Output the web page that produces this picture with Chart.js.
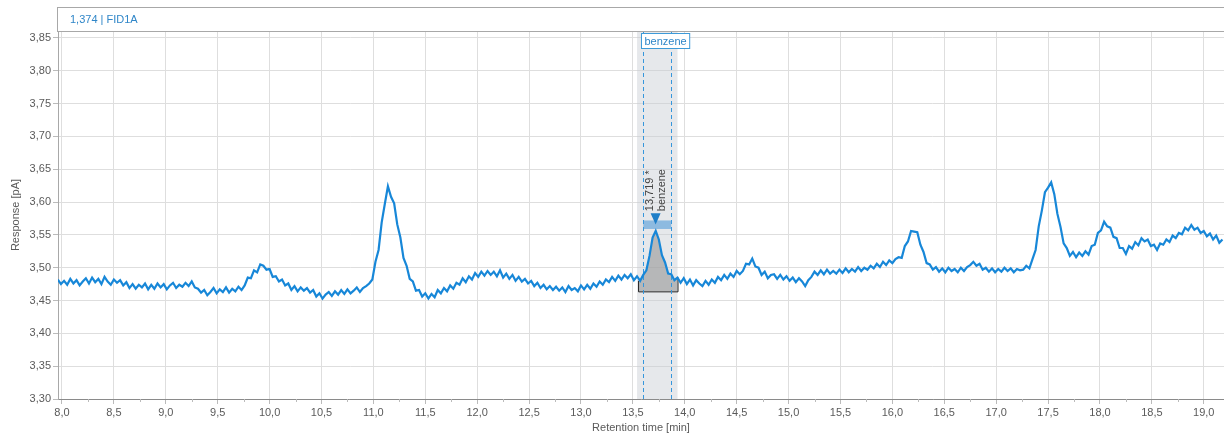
<!DOCTYPE html>
<html>
<head>
<meta charset="utf-8">
<script src="https://cdn.jsdelivr.net/npm/chart.js@4.4.1/dist/chart.umd.min.js"></script>
<style>
  html, body { margin: 0; padding: 0; background: #fff; }
  #wrap { width: 1224px; height: 439px; position: relative; }
</style>
</head>
<body>
<div id="wrap"><canvas id="chromChart"></canvas></div>
<script>
// FID1A trace, sampled every 0.03 min from 7.96 min
const startTime = 7.96;
const sampleStep = 0.03;
const response = [
  3.482,3.475,3.480,3.474,3.483,3.476,3.481,3.473,3.479,3.484,
  3.476,3.485,3.478,3.483,3.475,3.486,3.479,3.474,3.482,3.477,
  3.481,3.473,3.478,3.469,3.475,3.468,3.474,3.470,3.476,3.467,
  3.474,3.468,3.476,3.470,3.475,3.467,3.473,3.477,3.469,3.474,
  3.471,3.477,3.472,3.479,3.470,3.468,3.462,3.466,3.458,3.463,
  3.469,3.461,3.467,3.463,3.470,3.462,3.468,3.464,3.471,3.466,
  3.473,3.485,3.484,3.496,3.493,3.505,3.503,3.497,3.498,3.486,
  3.487,3.479,3.482,3.473,3.476,3.466,3.472,3.464,3.470,3.465,
  3.469,3.462,3.466,3.456,3.461,3.453,3.459,3.463,3.457,3.464,
  3.459,3.466,3.460,3.467,3.461,3.465,3.470,3.463,3.469,3.472,
  3.476,3.482,3.509,3.527,3.569,3.597,3.624,3.608,3.598,3.566,
  3.546,3.515,3.503,3.483,3.479,3.465,3.466,3.456,3.461,3.453,
  3.460,3.455,3.466,3.461,3.469,3.464,3.473,3.468,3.477,3.474,
  3.484,3.478,3.487,3.482,3.492,3.486,3.494,3.488,3.495,3.489,
  3.494,3.487,3.496,3.485,3.491,3.483,3.489,3.480,3.486,3.479,
  3.483,3.476,3.480,3.472,3.477,3.469,3.474,3.467,3.472,3.466,
  3.471,3.465,3.470,3.463,3.472,3.466,3.469,3.464,3.473,3.467,
  3.474,3.468,3.476,3.471,3.479,3.474,3.482,3.478,3.486,3.480,
  3.488,3.482,3.489,3.484,3.490,3.481,3.487,3.480,3.489,3.496,
  3.518,3.546,3.556,3.543,3.519,3.508,3.491,3.490,3.481,3.485,
  3.477,3.484,3.475,3.482,3.473,3.481,3.476,3.472,3.480,3.474,
  3.482,3.477,3.486,3.481,3.489,3.483,3.491,3.486,3.495,3.490,
  3.495,3.506,3.505,3.514,3.502,3.500,3.489,3.494,3.484,3.489,
  3.490,3.483,3.489,3.482,3.487,3.480,3.485,3.478,3.484,3.479,
  3.472,3.481,3.486,3.494,3.489,3.496,3.490,3.497,3.491,3.495,
  3.491,3.497,3.492,3.499,3.493,3.498,3.494,3.501,3.495,3.500,
  3.497,3.503,3.499,3.506,3.501,3.509,3.504,3.511,3.507,3.513,
  3.516,3.515,3.533,3.540,3.556,3.555,3.554,3.535,3.524,3.507,
  3.505,3.497,3.501,3.494,3.499,3.493,3.500,3.495,3.498,3.493,
  3.500,3.495,3.501,3.504,3.509,3.503,3.506,3.497,3.500,3.494,
  3.499,3.493,3.498,3.494,3.500,3.495,3.499,3.493,3.498,3.496,
  3.497,3.503,3.499,3.513,3.527,3.563,3.587,3.615,3.622,3.630,
  3.612,3.582,3.562,3.537,3.530,3.518,3.524,3.516,3.523,3.518,
  3.525,3.520,3.533,3.535,3.553,3.557,3.570,3.563,3.561,3.547,
  3.545,3.530,3.530,3.521,3.533,3.529,3.539,3.534,3.545,3.540,
  3.543,3.533,3.535,3.527,3.537,3.535,3.543,3.539,3.549,3.545,
  3.553,3.551,3.561,3.557,3.565,3.558,3.561,3.553,3.556,3.548,
  3.552,3.543,3.549,3.538,3.543
];

const traceTitle = '1,374 | FID1A';
const peakName = 'benzene';
const peakLabel = '13,719 *';
const peakTime = 13.719;
const peakWindow = [13.54, 13.93];   // grey window behind the peak
const peakMarks = [13.60, 13.87];    // dashed window lines
const peakIntegration = [13.55, 13.93];
const peakBaseline = 3.464;

const blue = '#1787d8';

Chart.defaults.font.family = "'Liberation Sans Narrow', 'Liberation Sans', Arial, sans-serif";
Chart.defaults.font.size = 11;
Chart.defaults.color = '#5a5a5a';

const points = response.map((v, i) => ({ x: +(startTime + i * sampleStep).toFixed(2), y: v }));

const peakPlugin = {
    id: 'peakPlugin',
    beforeDatasetsDraw(chart) {
        const ctx = chart.ctx, xs = chart.scales.x, ys = chart.scales.y, area = chart.chartArea;
        ctx.save();
        // peak window
        const wx0 = xs.getPixelForValue(peakWindow[0]), wx1 = xs.getPixelForValue(peakWindow[1]);
        ctx.fillStyle = 'rgba(200,205,210,0.45)';
        ctx.fillRect(wx0, area.top, wx1 - wx0, area.bottom - area.top);

        // integrated area
        const inPeak = points.filter(p => p.x >= peakIntegration[0] && p.x <= peakIntegration[1]);
        const bx0 = xs.getPixelForValue(peakIntegration[0]), bx1 = xs.getPixelForValue(peakIntegration[1]);
        const by = ys.getPixelForValue(peakBaseline);
        ctx.beginPath();
        ctx.moveTo(bx0, by);
        ctx.lineTo(bx0, ys.getPixelForValue(inPeak[0].y));
        inPeak.forEach(p => ctx.lineTo(xs.getPixelForValue(p.x), ys.getPixelForValue(p.y)));
        ctx.lineTo(bx1, ys.getPixelForValue(inPeak[inPeak.length - 1].y));
        ctx.lineTo(bx1, by);
        ctx.closePath();
        ctx.fillStyle = 'rgba(150,150,150,0.6)';
        ctx.fill();

        ctx.beginPath();
        ctx.moveTo(bx0 + 0.5, ys.getPixelForValue(inPeak[0].y));
        ctx.lineTo(bx0 + 0.5, by + 0.5);
        ctx.lineTo(bx1 + 0.5, by + 0.5);
        ctx.lineTo(bx1 + 0.5, ys.getPixelForValue(inPeak[inPeak.length - 1].y));
        ctx.strokeStyle = '#222';
        ctx.lineWidth = 1;
        ctx.stroke();

        // dashed window lines
        ctx.setLineDash([4, 3]);
        ctx.strokeStyle = '#3596dc';
        peakMarks.forEach(t => {
            const px = Math.round(xs.getPixelForValue(t)) + 0.5;
            ctx.beginPath();
            ctx.moveTo(px, area.top);
            ctx.lineTo(px, area.bottom);
            ctx.stroke();
        });
        ctx.restore();
    },
    afterDatasetsDraw(chart) {
        const ctx = chart.ctx, xs = chart.scales.x, ys = chart.scales.y, area = chart.chartArea;
        ctx.save();
        const mx0 = xs.getPixelForValue(peakMarks[0]), mx1 = xs.getPixelForValue(peakMarks[1]);

        // apex bar + triangle
        const barTop = ys.getPixelForValue(3.572), barBot = ys.getPixelForValue(3.559);
        ctx.fillStyle = 'rgba(70,150,215,0.55)';
        ctx.fillRect(mx0, barTop, mx1 - mx0, barBot - barTop);

        const px = xs.getPixelForValue(peakTime);
        const triTop = ys.getPixelForValue(3.583), triTip = ys.getPixelForValue(3.566);
        ctx.beginPath();
        ctx.moveTo(px - 5, triTop);
        ctx.lineTo(px + 5, triTop);
        ctx.lineTo(px, triTip);
        ctx.closePath();
        ctx.fillStyle = '#1f7fc8';
        ctx.fill();

        // rotated peak label
        ctx.save();
        ctx.translate(px - 6, triTop - 2);
        ctx.rotate(-Math.PI / 2);
        ctx.font = "11px 'Liberation Sans', Arial, sans-serif";
        ctx.fillStyle = '#444';
        ctx.textAlign = 'left';
        ctx.textBaseline = 'middle';
        ctx.fillText(peakLabel, 0, 0);
        ctx.fillText(peakName, 0, 12);
        ctx.restore();

        // compound name box at the top
        ctx.font = "11px 'Liberation Sans Narrow', 'Liberation Sans', Arial, sans-serif";
        const tw = ctx.measureText(peakName).width + 6;
        const boxX = Math.round(mx0) - 1.5, boxY = area.top + 2.5;
        ctx.fillStyle = '#fff';
        ctx.fillRect(boxX, boxY, tw, 15);
        ctx.strokeStyle = '#3d9ad8';
        ctx.lineWidth = 1;
        ctx.strokeRect(boxX, boxY, tw, 15);
        ctx.fillStyle = '#2f86c8';
        ctx.textAlign = 'left';
        ctx.textBaseline = 'middle';
        ctx.fillText(peakName, boxX + 3, boxY + 8);
        ctx.restore();
    },
    afterDraw(chart) {
        const ctx = chart.ctx, xs = chart.scales.x, area = chart.chartArea;
        ctx.save();
        // header box
        ctx.strokeStyle = '#a8a8a8';
        ctx.lineWidth = 1;
        ctx.strokeRect(area.left - 0.5, 7.5, chart.width - area.left + 2, area.top - 7);
        ctx.font = "11px 'Liberation Sans Narrow', 'Liberation Sans', Arial, sans-serif";
        ctx.fillStyle = '#2f86c8';
        ctx.textBaseline = 'middle';
        ctx.fillText(traceTitle, area.left + 12, 19.5);

        // minor ticks on the time axis
        ctx.strokeStyle = '#bbb';
        xs.ticks.forEach(t => {
            const mx = Math.round(xs.getPixelForValue(t.value + 0.25)) + 0.5;
            if (mx > area.right) return;
            ctx.beginPath();
            ctx.moveTo(mx, area.bottom);
            ctx.lineTo(mx, area.bottom + 3);
            ctx.stroke();
        });
        ctx.restore();
    }
};

new Chart(document.getElementById('chromChart').getContext('2d'), {
    type: 'line',
    data: {
        datasets: [{
            label: 'FID1A',
            data: points,
            borderColor: blue,
            borderWidth: 2.2,
            pointRadius: 0,
            tension: 0,
            fill: false
        }]
    },
    options: {
        responsive: true,
        maintainAspectRatio: false,
        animation: false,
        layout: { padding: { top: 31, right: 0, left: 0, bottom: 0 } },
        plugins: {
            legend: { display: false },
            tooltip: { enabled: false }
        },
        scales: {
            x: {
                type: 'linear',
                min: 7.9615,
                max: 19.195,
                afterFit: s => { s.height = 40; },
                grid: { color: '#dedede', tickLength: 5, tickColor: '#bbb' },
                border: { color: '#8a8a8a' },
                ticks: {
                    stepSize: 0.5,
                    includeBounds: false,
                    autoSkip: false,
                    maxRotation: 0,
                    padding: 2,
                    callback: v => v.toFixed(1).replace('.', ',')
                },
                title: {
                    display: true,
                    text: 'Retention time [min]',
                    color: '#5a5a5a',
                    font: { size: 11 },
                    padding: { top: 0, bottom: 4 }
                }
            },
            y: {
                min: 3.30,
                max: 3.8606,
                afterFit: s => { s.width = 58; },
                grid: { color: '#dedede', tickLength: 5, tickColor: '#bbb' },
                border: { color: '#a8a8a8' },
                ticks: {
                    stepSize: 0.05,
                    includeBounds: false,
                    padding: 2,
                    callback: v => v.toFixed(2).replace('.', ',')
                },
                title: {
                    display: true,
                    text: 'Response [pA]',
                    color: '#5a5a5a',
                    font: { size: 11 },
                    padding: { top: 9, bottom: 0 }
                }
            }
        }
    },
    plugins: [peakPlugin]
});
</script>
</body>
</html>
